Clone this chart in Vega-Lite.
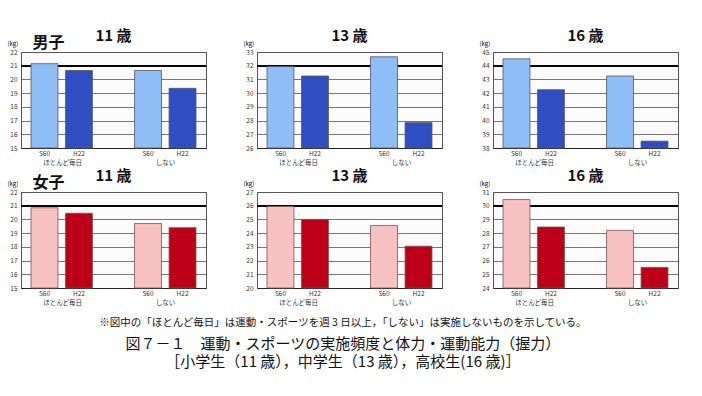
{
  "$schema": "https://vega.github.io/schema/vega-lite/v6.json",
  "padding": {"left": 6, "top": 28, "right": 4, "bottom": 4},
  "background": "white",
  "config": {
    "font": "Noto Sans CJK JP",
    "view": {"stroke": "#555", "strokeWidth": 1, "fill": "#fbfbfb"},
    "axis": {"labelFontSize": 6.5, "labelColor": "#333", "ticks": false, "domain": false, "gridColor": "#555", "gridWidth": 0.8},
    "axisY": {"tickCount": 7, "grid": true, "titleAngle": 0, "titleFontSize": 6, "titleFontWeight": "normal", "titleX": -14, "titleY": -6, "titleAlign": "left", "labelPadding": 4},
    "title": {"fontSize": 15, "fontWeight": "bold", "color": "#111"},
    "concat": {"spacing": 34}
  },
  "resolve": {"scale": {"color": "independent"}},
  "spacing": 2,
  "datasets": {
    "grip": [
      {"gender": "男子", "age": 11, "group": "ほとんど毎日", "year": "S60", "bar": "ほとんど毎日 S60", "value": 21.15},
      {"gender": "男子", "age": 11, "group": "ほとんど毎日", "year": "H22", "bar": "ほとんど毎日 H22", "value": 20.65},
      {"gender": "男子", "age": 11, "group": "しない", "year": "S60", "bar": "しない S60", "value": 20.65},
      {"gender": "男子", "age": 11, "group": "しない", "year": "H22", "bar": "しない H22", "value": 19.35},
      {"gender": "男子", "age": 13, "group": "ほとんど毎日", "year": "S60", "bar": "ほとんど毎日 S60", "value": 31.95},
      {"gender": "男子", "age": 13, "group": "ほとんど毎日", "year": "H22", "bar": "ほとんど毎日 H22", "value": 31.25},
      {"gender": "男子", "age": 13, "group": "しない", "year": "S60", "bar": "しない S60", "value": 32.65},
      {"gender": "男子", "age": 13, "group": "しない", "year": "H22", "bar": "しない H22", "value": 27.85},
      {"gender": "男子", "age": 16, "group": "ほとんど毎日", "year": "S60", "bar": "ほとんど毎日 S60", "value": 44.5},
      {"gender": "男子", "age": 16, "group": "ほとんど毎日", "year": "H22", "bar": "ほとんど毎日 H22", "value": 42.25},
      {"gender": "男子", "age": 16, "group": "しない", "year": "S60", "bar": "しない S60", "value": 43.25},
      {"gender": "男子", "age": 16, "group": "しない", "year": "H22", "bar": "しない H22", "value": 38.5},
      {"gender": "女子", "age": 11, "group": "ほとんど毎日", "year": "S60", "bar": "ほとんど毎日 S60", "value": 20.85},
      {"gender": "女子", "age": 11, "group": "ほとんど毎日", "year": "H22", "bar": "ほとんど毎日 H22", "value": 20.45},
      {"gender": "女子", "age": 11, "group": "しない", "year": "S60", "bar": "しない S60", "value": 19.7},
      {"gender": "女子", "age": 11, "group": "しない", "year": "H22", "bar": "しない H22", "value": 19.4},
      {"gender": "女子", "age": 13, "group": "ほとんど毎日", "year": "S60", "bar": "ほとんど毎日 S60", "value": 25.95},
      {"gender": "女子", "age": 13, "group": "ほとんど毎日", "year": "H22", "bar": "ほとんど毎日 H22", "value": 25.0},
      {"gender": "女子", "age": 13, "group": "しない", "year": "S60", "bar": "しない S60", "value": 24.55},
      {"gender": "女子", "age": 13, "group": "しない", "year": "H22", "bar": "しない H22", "value": 23.05},
      {"gender": "女子", "age": 16, "group": "ほとんど毎日", "year": "S60", "bar": "ほとんど毎日 S60", "value": 30.45},
      {"gender": "女子", "age": 16, "group": "ほとんど毎日", "year": "H22", "bar": "ほとんど毎日 H22", "value": 28.45},
      {"gender": "女子", "age": 16, "group": "しない", "year": "S60", "bar": "しない S60", "value": 28.2},
      {"gender": "女子", "age": 16, "group": "しない", "year": "H22", "bar": "しない H22", "value": 25.5}
    ]
  },
  "title": {
    "text": "※図中の「ほとんど毎日」は運動・スポーツを週 3 日以上，「しない」は実施しないものを示している。",
    "orient": "bottom", "anchor": "middle", "fontSize": 10.5, "fontWeight": "normal", "offset": 12,
    "subtitle": ["図７－１　運動・スポーツの実施頻度と体力・運動能力（握力）", "［小学生（11 歳），中学生（13 歳），高校生(16 歳)］"],
    "subtitleFontSize": 15, "subtitleColor": "#111", "subtitlePadding": 8, "subtitleLineHeight": 18
  },
  "vconcat": [
    {
      "title": {"text": "男子", "anchor": "start", "fontSize": 16, "dx": 26, "offset": -22},
      "hconcat": [
        {
          "title": {"text": "11 歳", "offset": -4},
          "width": 185, "height": 96,
          "data": {"name": "grip"},
          "transform": [{"filter": "datum.gender == '男子' && datum.age == 11"}],
          "layer": [
            {"mark": {"type": "rule", "color": "#000", "strokeWidth": 1.6}, "encoding": {"y": {"datum": 21, "type": "quantitative", "title": "(kg)"}}},
            {"mark": {"type": "bar", "stroke": "#556", "strokeWidth": 0.8},
             "encoding": {
               "x": {"field": "bar", "type": "nominal", "title": null, "scale": {"domain": ["ほとんど毎日 S60", "ほとんど毎日 H22", "gap", "しない S60", "しない H22"], "paddingInner": 0.22, "paddingOuter": 0.29}, "axis": {"labelAngle": 0, "labelPadding": 2, "labelExpr": "indexof(datum.value, ' ') > 0 ? split(datum.value, ' ')[1] : ''", "domain": true, "domainColor": "#222"}},
               "y": {"field": "value", "type": "quantitative", "title": "(kg)", "scale": {"domain": [15, 22], "nice": false, "zero": false}},
               "y2": {"datum": 15},
               "color": {"field": "year", "type": "nominal", "scale": {"domain": ["S60", "H22"], "range": ["#8fbdf6", "#2f4ec2"]}, "legend": null}
             }},
            {"mark": {"type": "text"},
             "encoding": {
               "x": {"field": "group", "type": "nominal", "title": null, "scale": {"type": "point", "domain": ["ほとんど毎日", "しない"], "padding": 0.4}, "axis": {"orient": "bottom", "labelAngle": 0, "labelPadding": 11, "labelFontSize": 6.5}},
               "text": {"value": ""}
             }}
          ],
          "resolve": {"scale": {"x": "independent"}, "axis": {"x": "independent"}}
        },
        {
          "title": {"text": "13 歳", "offset": -4},
          "width": 185, "height": 96,
          "data": {"name": "grip"},
          "transform": [{"filter": "datum.gender == '男子' && datum.age == 13"}],
          "layer": [
            {"mark": {"type": "rule", "color": "#000", "strokeWidth": 1.6}, "encoding": {"y": {"datum": 32, "type": "quantitative", "title": "(kg)"}}},
            {"mark": {"type": "bar", "stroke": "#556", "strokeWidth": 0.8},
             "encoding": {
               "x": {"field": "bar", "type": "nominal", "title": null, "scale": {"domain": ["ほとんど毎日 S60", "ほとんど毎日 H22", "gap", "しない S60", "しない H22"], "paddingInner": 0.22, "paddingOuter": 0.29}, "axis": {"labelAngle": 0, "labelPadding": 2, "labelExpr": "indexof(datum.value, ' ') > 0 ? split(datum.value, ' ')[1] : ''", "domain": true, "domainColor": "#222"}},
               "y": {"field": "value", "type": "quantitative", "title": "(kg)", "scale": {"domain": [26, 33], "nice": false, "zero": false}},
               "y2": {"datum": 26},
               "color": {"field": "year", "type": "nominal", "scale": {"domain": ["S60", "H22"], "range": ["#8fbdf6", "#2f4ec2"]}, "legend": null}
             }},
            {"mark": {"type": "text"},
             "encoding": {
               "x": {"field": "group", "type": "nominal", "title": null, "scale": {"type": "point", "domain": ["ほとんど毎日", "しない"], "padding": 0.4}, "axis": {"orient": "bottom", "labelAngle": 0, "labelPadding": 11, "labelFontSize": 6.5}},
               "text": {"value": ""}
             }}
          ],
          "resolve": {"scale": {"x": "independent"}, "axis": {"x": "independent"}}
        },
        {
          "title": {"text": "16 歳", "offset": -4},
          "width": 185, "height": 96,
          "data": {"name": "grip"},
          "transform": [{"filter": "datum.gender == '男子' && datum.age == 16"}],
          "layer": [
            {"mark": {"type": "rule", "color": "#000", "strokeWidth": 1.6}, "encoding": {"y": {"datum": 44, "type": "quantitative", "title": "(kg)"}}},
            {"mark": {"type": "bar", "stroke": "#556", "strokeWidth": 0.8},
             "encoding": {
               "x": {"field": "bar", "type": "nominal", "title": null, "scale": {"domain": ["ほとんど毎日 S60", "ほとんど毎日 H22", "gap", "しない S60", "しない H22"], "paddingInner": 0.22, "paddingOuter": 0.29}, "axis": {"labelAngle": 0, "labelPadding": 2, "labelExpr": "indexof(datum.value, ' ') > 0 ? split(datum.value, ' ')[1] : ''", "domain": true, "domainColor": "#222"}},
               "y": {"field": "value", "type": "quantitative", "title": "(kg)", "scale": {"domain": [38, 45], "nice": false, "zero": false}},
               "y2": {"datum": 38},
               "color": {"field": "year", "type": "nominal", "scale": {"domain": ["S60", "H22"], "range": ["#8fbdf6", "#2f4ec2"]}, "legend": null}
             }},
            {"mark": {"type": "text"},
             "encoding": {
               "x": {"field": "group", "type": "nominal", "title": null, "scale": {"type": "point", "domain": ["ほとんど毎日", "しない"], "padding": 0.4}, "axis": {"orient": "bottom", "labelAngle": 0, "labelPadding": 11, "labelFontSize": 6.5}},
               "text": {"value": ""}
             }}
          ],
          "resolve": {"scale": {"x": "independent"}, "axis": {"x": "independent"}}
        }
      ]
    },
    {
      "title": {"text": "女子", "anchor": "start", "fontSize": 16, "dx": 26, "offset": -22},
      "hconcat": [
        {
          "title": {"text": "11 歳", "offset": -4},
          "width": 185, "height": 96,
          "data": {"name": "grip"},
          "transform": [{"filter": "datum.gender == '女子' && datum.age == 11"}],
          "layer": [
            {"mark": {"type": "rule", "color": "#000", "strokeWidth": 1.6}, "encoding": {"y": {"datum": 21, "type": "quantitative", "title": "(kg)"}}},
            {"mark": {"type": "bar", "stroke": "#755", "strokeWidth": 0.8},
             "encoding": {
               "x": {"field": "bar", "type": "nominal", "title": null, "scale": {"domain": ["ほとんど毎日 S60", "ほとんど毎日 H22", "gap", "しない S60", "しない H22"], "paddingInner": 0.22, "paddingOuter": 0.29}, "axis": {"labelAngle": 0, "labelPadding": 2, "labelExpr": "indexof(datum.value, ' ') > 0 ? split(datum.value, ' ')[1] : ''", "domain": true, "domainColor": "#222"}},
               "y": {"field": "value", "type": "quantitative", "title": "(kg)", "scale": {"domain": [15, 22], "nice": false, "zero": false}},
               "y2": {"datum": 15},
               "color": {"field": "year", "type": "nominal", "scale": {"domain": ["S60", "H22"], "range": ["#f9c2c2", "#bb0018"]}, "legend": null}
             }},
            {"mark": {"type": "text"},
             "encoding": {
               "x": {"field": "group", "type": "nominal", "title": null, "scale": {"type": "point", "domain": ["ほとんど毎日", "しない"], "padding": 0.4}, "axis": {"orient": "bottom", "labelAngle": 0, "labelPadding": 11, "labelFontSize": 6.5}},
               "text": {"value": ""}
             }}
          ],
          "resolve": {"scale": {"x": "independent"}, "axis": {"x": "independent"}}
        },
        {
          "title": {"text": "13 歳", "offset": -4},
          "width": 185, "height": 96,
          "data": {"name": "grip"},
          "transform": [{"filter": "datum.gender == '女子' && datum.age == 13"}],
          "layer": [
            {"mark": {"type": "rule", "color": "#000", "strokeWidth": 1.6}, "encoding": {"y": {"datum": 26, "type": "quantitative", "title": "(kg)"}}},
            {"mark": {"type": "bar", "stroke": "#755", "strokeWidth": 0.8},
             "encoding": {
               "x": {"field": "bar", "type": "nominal", "title": null, "scale": {"domain": ["ほとんど毎日 S60", "ほとんど毎日 H22", "gap", "しない S60", "しない H22"], "paddingInner": 0.22, "paddingOuter": 0.29}, "axis": {"labelAngle": 0, "labelPadding": 2, "labelExpr": "indexof(datum.value, ' ') > 0 ? split(datum.value, ' ')[1] : ''", "domain": true, "domainColor": "#222"}},
               "y": {"field": "value", "type": "quantitative", "title": "(kg)", "scale": {"domain": [20, 27], "nice": false, "zero": false}},
               "y2": {"datum": 20},
               "color": {"field": "year", "type": "nominal", "scale": {"domain": ["S60", "H22"], "range": ["#f9c2c2", "#bb0018"]}, "legend": null}
             }},
            {"mark": {"type": "text"},
             "encoding": {
               "x": {"field": "group", "type": "nominal", "title": null, "scale": {"type": "point", "domain": ["ほとんど毎日", "しない"], "padding": 0.4}, "axis": {"orient": "bottom", "labelAngle": 0, "labelPadding": 11, "labelFontSize": 6.5}},
               "text": {"value": ""}
             }}
          ],
          "resolve": {"scale": {"x": "independent"}, "axis": {"x": "independent"}}
        },
        {
          "title": {"text": "16 歳", "offset": -4},
          "width": 185, "height": 96,
          "data": {"name": "grip"},
          "transform": [{"filter": "datum.gender == '女子' && datum.age == 16"}],
          "layer": [
            {"mark": {"type": "rule", "color": "#000", "strokeWidth": 1.6}, "encoding": {"y": {"datum": 30, "type": "quantitative", "title": "(kg)"}}},
            {"mark": {"type": "bar", "stroke": "#755", "strokeWidth": 0.8},
             "encoding": {
               "x": {"field": "bar", "type": "nominal", "title": null, "scale": {"domain": ["ほとんど毎日 S60", "ほとんど毎日 H22", "gap", "しない S60", "しない H22"], "paddingInner": 0.22, "paddingOuter": 0.29}, "axis": {"labelAngle": 0, "labelPadding": 2, "labelExpr": "indexof(datum.value, ' ') > 0 ? split(datum.value, ' ')[1] : ''", "domain": true, "domainColor": "#222"}},
               "y": {"field": "value", "type": "quantitative", "title": "(kg)", "scale": {"domain": [24, 31], "nice": false, "zero": false}},
               "y2": {"datum": 24},
               "color": {"field": "year", "type": "nominal", "scale": {"domain": ["S60", "H22"], "range": ["#f9c2c2", "#bb0018"]}, "legend": null}
             }},
            {"mark": {"type": "text"},
             "encoding": {
               "x": {"field": "group", "type": "nominal", "title": null, "scale": {"type": "point", "domain": ["ほとんど毎日", "しない"], "padding": 0.4}, "axis": {"orient": "bottom", "labelAngle": 0, "labelPadding": 11, "labelFontSize": 6.5}},
               "text": {"value": ""}
             }}
          ],
          "resolve": {"scale": {"x": "independent"}, "axis": {"x": "independent"}}
        }
      ]
    }
  ]
}
